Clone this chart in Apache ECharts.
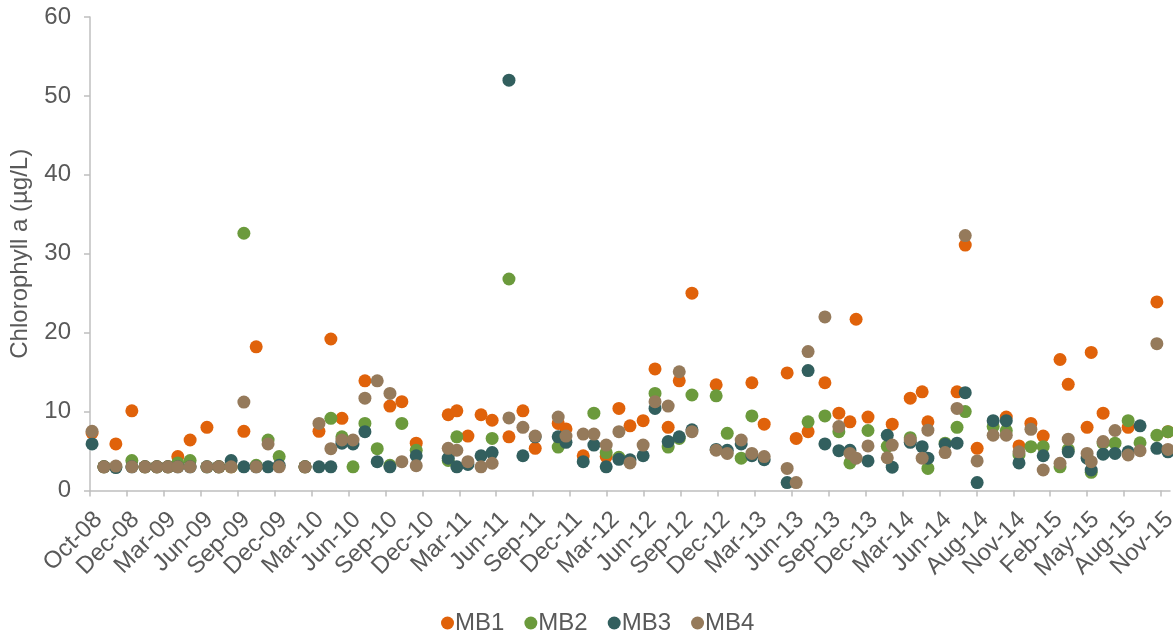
<!DOCTYPE html>
<html><head><meta charset="utf-8">
<script src="https://cdn.jsdelivr.net/npm/echarts@6/dist/echarts.min.js"></script>
<style>html,body{margin:0;padding:0;background:#fff}#c{width:1173px;height:637px}</style>
</head><body><div id="c"></div>
<script>
const sampleDates = ['2008-10-06','2008-11-04','2008-12-03','2009-01-11','2009-02-12','2009-03-13','2009-04-09','2009-05-03','2009-06-02','2009-07-13',
'2009-08-11','2009-09-10','2009-10-11','2009-11-10','2009-12-09','2010-01-05','2010-03-09','2010-04-12','2010-05-11','2010-06-07',
'2010-07-04','2010-08-02','2010-09-01','2010-10-02','2010-10-31','2010-12-05','2011-02-21','2011-03-14','2011-04-10','2011-05-12',
'2011-06-08','2011-07-19','2011-08-22','2011-09-21','2011-11-16','2011-12-05','2012-01-16','2012-02-11','2012-03-12','2012-04-12',
'2012-05-09','2012-06-10','2012-07-09','2012-08-10','2012-09-06','2012-10-07','2012-12-05','2013-01-01','2013-02-04','2013-03-02',
'2013-04-01','2013-05-27','2013-06-18','2013-07-17','2013-08-27','2013-09-30','2013-10-27','2013-11-11','2013-12-10','2014-01-26',
'2014-02-07','2014-03-23','2014-04-21','2014-05-05','2014-06-16','2014-07-15','2014-08-04','2014-09-02','2014-10-11','2014-11-12',
'2014-12-13','2015-01-11','2015-02-10','2015-03-23','2015-04-12','2015-05-28','2015-06-07','2015-07-06','2015-08-04','2015-09-05',
'2015-10-04','2015-11-14','2015-12-11'];

const MB1 = [7.3,3,5.9,10.1,3,3,3,4.3,6.4,8.0,
3,3,7.5,18.2,null,null,3,7.5,19.2,9.15,
null,13.9,null,10.7,11.25,6.0,9.6,10.1,6.9,9.6,
8.9,6.8,10.1,5.35,8.5,7.8,4.4,null,4.3,10.4,
8.2,8.85,15.4,8.0,13.9,25.0,13.4,null,null,13.65,
8.4,14.9,6.6,7.45,13.65,9.8,8.7,21.7,9.3,null,
8.4,11.7,12.5,8.7,null,12.5,31.1,5.35,null,9.3,
5.65,8.5,6.9,16.6,13.45,8.0,17.5,9.8,null,8.0,
null,23.9,7.45];

const MB2 = [null,3,3,3.8,3,3,3,3.5,3.8,3,
3,3,32.6,3.2,6.4,4.3,3,null,9.15,6.8,
3.0,8.5,5.3,3.2,8.5,5.1,3.8,6.8,null,null,
6.6,26.8,null,null,5.5,null,null,9.8,4.8,4.2,
null,null,12.3,5.5,6.6,12.1,12.0,7.25,4.1,9.45,
null,null,null,8.7,9.45,7.45,3.5,null,7.6,5.6,
null,6.7,null,2.8,6.0,8.0,10.0,null,8.1,7.6,
4.5,5.55,5.55,3.0,5.2,null,2.3,6.0,6.0,8.85,
6.05,7.0,7.45];

const MB3 = [5.9,3,2.9,3,3,3,3,3,3,3,
3,3.8,3.0,3,3.0,3.2,3,3.0,3.0,6.0,
5.9,7.45,3.65,3.0,null,4.4,4.1,3.0,3.3,4.4,
4.8,52.0,4.4,6.8,6.8,6.1,3.65,5.75,3.0,3.95,
3.9,4.4,10.4,6.2,6.8,7.7,5.2,5.1,5.9,4.4,
3.9,1.0,null,15.2,5.9,5.05,5.1,null,3.75,7.0,
2.95,6.1,5.55,4.1,5.85,6.0,12.4,1.0,8.85,8.85,
3.5,null,4.4,null,4.9,4.1,2.6,4.6,4.7,4.9,
8.2,5.35,4.9];

const MB4 = [7.5,3,3.1,3,3,3,3,3,3,3,
3,3,11.2,3,5.9,3.0,3,8.5,5.3,6.4,
6.4,11.7,13.9,12.3,3.65,3.15,5.35,5.1,3.65,3.0,
3.45,9.2,8.0,6.9,9.3,6.9,7.15,7.15,5.75,7.45,
3.5,5.75,11.25,10.7,15.05,7.45,5.1,4.7,6.4,4.7,
4.3,2.8,1.0,17.6,22.0,8.1,4.7,4.1,5.65,4.15,
5.75,6.4,4.1,7.65,4.8,10.4,32.3,3.75,7.0,7.0,
4.9,7.75,2.6,3.45,6.5,4.7,3.65,6.2,7.6,4.5,
5.05,18.6,5.2];

const tickLabels = ['Oct-08','Dec-08','Mar-09','Jun-09','Sep-09','Dec-09','Mar-10','Jun-10','Sep-10','Dec-10',
'Mar-11','Jun-11','Sep-11','Dec-11','Mar-12','Jun-12','Sep-12','Dec-12','Mar-13','Jun-13',
'Sep-13','Dec-13','Mar-14','Jun-14','Aug-14','Nov-14','Feb-15','May-15','Aug-15','Nov-15'];

const seriesNames = ['MB1','MB2','MB3','MB4'];
const seriesColors = ['#E0620A','#6B9A3C','#325F5E','#957A5B'];

const START = Date.UTC(2008, 9, 1);
function dayOf(s){ const p = s.split('-'); return Math.round((Date.UTC(+p[0], +p[1]-1, +p[2]) - START) / 86400000); }
const days = sampleDates.map(dayOf);
const STEP = 90;
const tickVals = tickLabels.map((_, i) => i * STEP);

function pts(vals){ const out=[]; vals.forEach((v,i)=>{ if(v!==null) out.push([days[i], v]); }); return out; }
const allVals = [MB1, MB2, MB3, MB4];

const FONT = 'Liberation Sans, Arial, sans-serif';
const chart = echarts.init(document.getElementById('c'), null, {renderer:'canvas'});
chart.setOption({
  animation: false,
  backgroundColor: '#ffffff',
  grid: {left: 90, right: 3, top: 17, bottom: 146.5, containLabel: false, outerBoundsMode: 'none'},
  xAxis: {
    type: 'value', min: 0, max: 2632, interval: STEP,
    axisLine: {show: true, lineStyle: {color: '#BFBFBF', width: 1.5}},
    axisTick: {show: true, length: 6, lineStyle: {color: '#BFBFBF', width: 1.5}, customValues: tickVals},
    splitLine: {show: false},
    axisLabel: {
      customValues: tickVals,
      rotate: 45, margin: 17, verticalAlign: 'top', color: '#595959', fontSize: 24, fontFamily: FONT,
      formatter: function(v){ const i = Math.round(v / STEP); return (Math.abs(v - i*STEP) < 0.5 && tickLabels[i]) ? tickLabels[i] : ''; }
    }
  },
  yAxis: {
    type: 'value', min: 0, max: 60, interval: 10,
    name: 'Chlorophyll a (µg/L)', nameLocation: 'middle', nameGap: 58,
    nameTextStyle: {color: '#595959', fontSize: 24, fontFamily: FONT},
    axisLine: {show: true, lineStyle: {color: '#BFBFBF', width: 1.5}},
    axisTick: {show: true, length: 6, lineStyle: {color: '#BFBFBF', width: 1.5}},
    splitLine: {show: false},
    axisLabel: {color: '#595959', fontSize: 24, fontFamily: FONT, margin: 19}
  },
  legend: {
    bottom: 2, left: 441, padding: 0, icon: 'circle', itemWidth: 13, itemHeight: 13, itemGap: 20,
    textStyle: {color: '#595959', fontSize: 24, fontFamily: FONT, padding: [0,0,0,-4]},
    data: seriesNames
  },
  series: seriesNames.map((n, k) => ({
    name: n, type: 'scatter', symbol: 'circle', symbolSize: 13,
    itemStyle: {color: seriesColors[k], opacity: 1},
    data: pts(allVals[k])
  }))
});
</script></body></html>
